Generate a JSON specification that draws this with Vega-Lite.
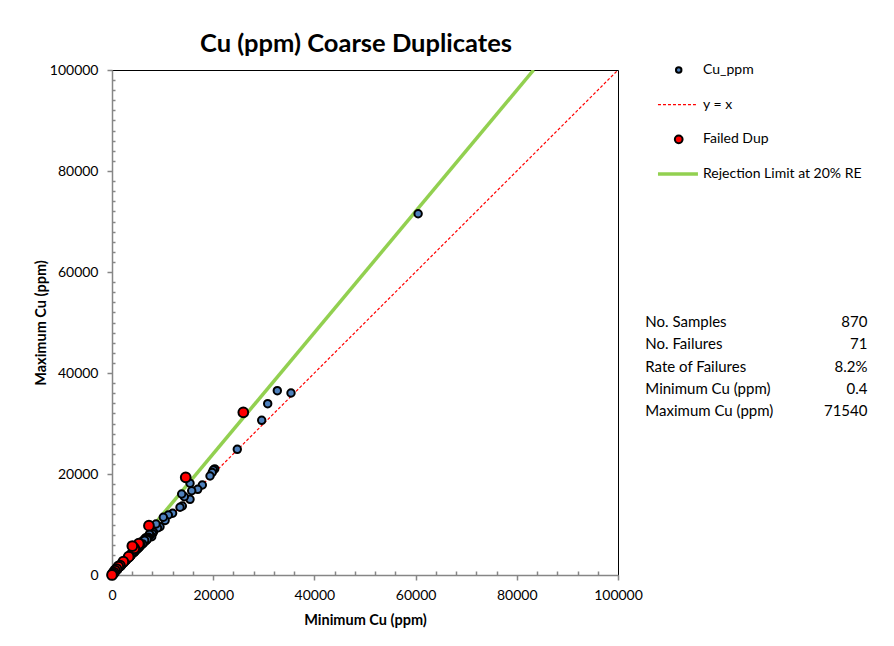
{
  "$schema": "https://vega.github.io/schema/vega-lite/v6.json",
  "autosize": {"type": "none"},
  "width": 506,
  "height": 505,
  "padding": {"left": 112, "top": 70, "right": 276, "bottom": 71},
  "background": "white",
  "config": {
    "font": "Lato",
    "view": {"stroke": "black", "strokeWidth": 1}
  },
  "title": {
    "text": "Cu (ppm) Coarse Duplicates",
    "fontSize": 25.5,
    "fontWeight": "bold",
    "font": "Lato",
    "anchor": "middle",
    "dx": -9,
    "offset": 6,
    "color": "black"
  },
  "datasets": {
    "pts": [
      {"min": 60500, "max": 71540, "series": "Cu_ppm"},
      {"min": 35375, "max": 36040, "series": "Cu_ppm"},
      {"min": 32670, "max": 36500, "series": "Cu_ppm"},
      {"min": 30770, "max": 33920, "series": "Cu_ppm"},
      {"min": 29585, "max": 30630, "series": "Cu_ppm"},
      {"min": 24760, "max": 24890, "series": "Cu_ppm"},
      {"min": 20300, "max": 21000, "series": "Cu_ppm"},
      {"min": 20020, "max": 20790, "series": "Cu_ppm"},
      {"min": 19800, "max": 20300, "series": "Cu_ppm"},
      {"min": 19370, "max": 19600, "series": "Cu_ppm"},
      {"min": 17850, "max": 17820, "series": "Cu_ppm"},
      {"min": 16940, "max": 16970, "series": "Cu_ppm"},
      {"min": 15750, "max": 16690, "series": "Cu_ppm"},
      {"min": 15420, "max": 18160, "series": "Cu_ppm"},
      {"min": 15420, "max": 14990, "series": "Cu_ppm"},
      {"min": 14300, "max": 15500, "series": "Cu_ppm"},
      {"min": 13770, "max": 16040, "series": "Cu_ppm"},
      {"min": 13900, "max": 13660, "series": "Cu_ppm"},
      {"min": 13440, "max": 13410, "series": "Cu_ppm"},
      {"min": 11980, "max": 12220, "series": "Cu_ppm"},
      {"min": 11130, "max": 11880, "series": "Cu_ppm"},
      {"min": 10500, "max": 10800, "series": "Cu_ppm"},
      {"min": 10140, "max": 11430, "series": "Cu_ppm"},
      {"min": 9490, "max": 9560, "series": "Cu_ppm"},
      {"min": 9000, "max": 9300, "series": "Cu_ppm"},
      {"min": 8700, "max": 10100, "series": "Cu_ppm"},
      {"min": 8200, "max": 8500, "series": "Cu_ppm"},
      {"min": 8000, "max": 8200, "series": "Cu_ppm"},
      {"min": 7850, "max": 7580, "series": "Cu_ppm"},
      {"min": 7600, "max": 7900, "series": "Cu_ppm"},
      {"min": 7400, "max": 8100, "series": "Cu_ppm"},
      {"min": 7200, "max": 7500, "series": "Cu_ppm"},
      {"min": 7000, "max": 7300, "series": "Cu_ppm"},
      {"min": 6850, "max": 6930, "series": "Cu_ppm"},
      {"min": 6700, "max": 7400, "series": "Cu_ppm"},
      {"min": 6600, "max": 6700, "series": "Cu_ppm"},
      {"min": 6500, "max": 7200, "series": "Cu_ppm"},
      {"min": 6400, "max": 6600, "series": "Cu_ppm"},
      {"min": 6200, "max": 6300, "series": "Cu_ppm"},
      {"min": 6100, "max": 6800, "series": "Cu_ppm"},
      {"min": 5900, "max": 6500, "series": "Cu_ppm"},
      {"min": 5800, "max": 6000, "series": "Cu_ppm"},
      {"min": 5700, "max": 6300, "series": "Cu_ppm"},
      {"min": 5600, "max": 5700, "series": "Cu_ppm"},
      {"min": 5500, "max": 5900, "series": "Cu_ppm"},
      {"min": 5400, "max": 5500, "series": "Cu_ppm"},
      {"min": 5300, "max": 5600, "series": "Cu_ppm"},
      {"min": 5200, "max": 5300, "series": "Cu_ppm"},
      {"min": 5100, "max": 5700, "series": "Cu_ppm"},
      {"min": 5000, "max": 5100, "series": "Cu_ppm"},
      {"min": 4900, "max": 5300, "series": "Cu_ppm"},
      {"min": 4800, "max": 4900, "series": "Cu_ppm"},
      {"min": 4700, "max": 5000, "series": "Cu_ppm"},
      {"min": 4600, "max": 5100, "series": "Cu_ppm"},
      {"min": 4500, "max": 4600, "series": "Cu_ppm"},
      {"min": 4400, "max": 4500, "series": "Cu_ppm"},
      {"min": 4300, "max": 4700, "series": "Cu_ppm"},
      {"min": 4200, "max": 4300, "series": "Cu_ppm"},
      {"min": 4100, "max": 4400, "series": "Cu_ppm"},
      {"min": 4000, "max": 4600, "series": "Cu_ppm"},
      {"min": 3900, "max": 4100, "series": "Cu_ppm"},
      {"min": 3800, "max": 3900, "series": "Cu_ppm"},
      {"min": 3700, "max": 4200, "series": "Cu_ppm"},
      {"min": 3600, "max": 3700, "series": "Cu_ppm"},
      {"min": 3500, "max": 3800, "series": "Cu_ppm"},
      {"min": 3400, "max": 3500, "series": "Cu_ppm"},
      {"min": 3300, "max": 3400, "series": "Cu_ppm"},
      {"min": 3200, "max": 3600, "series": "Cu_ppm"},
      {"min": 3100, "max": 3300, "series": "Cu_ppm"},
      {"min": 3000, "max": 3200, "series": "Cu_ppm"},
      {"min": 2900, "max": 3000, "series": "Cu_ppm"},
      {"min": 2800, "max": 2900, "series": "Cu_ppm"},
      {"min": 2700, "max": 3000, "series": "Cu_ppm"},
      {"min": 2600, "max": 2800, "series": "Cu_ppm"},
      {"min": 2500, "max": 2700, "series": "Cu_ppm"},
      {"min": 2400, "max": 2450, "series": "Cu_ppm"},
      {"min": 2300, "max": 2500, "series": "Cu_ppm"},
      {"min": 2200, "max": 2350, "series": "Cu_ppm"},
      {"min": 2100, "max": 2400, "series": "Cu_ppm"},
      {"min": 2000, "max": 2100, "series": "Cu_ppm"},
      {"min": 1900, "max": 2000, "series": "Cu_ppm"},
      {"min": 1800, "max": 1900, "series": "Cu_ppm"},
      {"min": 1700, "max": 1950, "series": "Cu_ppm"},
      {"min": 1600, "max": 1700, "series": "Cu_ppm"},
      {"min": 1500, "max": 1650, "series": "Cu_ppm"},
      {"min": 1400, "max": 1500, "series": "Cu_ppm"},
      {"min": 1300, "max": 1450, "series": "Cu_ppm"},
      {"min": 1200, "max": 1300, "series": "Cu_ppm"},
      {"min": 1100, "max": 1200, "series": "Cu_ppm"},
      {"min": 1000, "max": 1100, "series": "Cu_ppm"},
      {"min": 950, "max": 1050, "series": "Cu_ppm"},
      {"min": 850, "max": 900, "series": "Cu_ppm"},
      {"min": 750, "max": 800, "series": "Cu_ppm"},
      {"min": 700, "max": 780, "series": "Cu_ppm"},
      {"min": 620, "max": 700, "series": "Cu_ppm"},
      {"min": 550, "max": 600, "series": "Cu_ppm"},
      {"min": 480, "max": 520, "series": "Cu_ppm"},
      {"min": 400, "max": 450, "series": "Cu_ppm"},
      {"min": 300, "max": 330, "series": "Cu_ppm"},
      {"min": 250, "max": 280, "series": "Cu_ppm"},
      {"min": 200, "max": 220, "series": "Cu_ppm"},
      {"min": 120, "max": 140, "series": "Cu_ppm"},
      {"min": 60, "max": 70, "series": "Cu_ppm"},
      {"min": 20, "max": 25, "series": "Cu_ppm"},
      {"min": 6950, "max": 7050, "series": "Cu_ppm"},
      {"min": 6450, "max": 6900, "series": "Cu_ppm"},
      {"min": 6050, "max": 6150, "series": "Cu_ppm"},
      {"min": 5650, "max": 6050, "series": "Cu_ppm"},
      {"min": 5250, "max": 5400, "series": "Cu_ppm"},
      {"min": 4850, "max": 5150, "series": "Cu_ppm"},
      {"min": 4450, "max": 4550, "series": "Cu_ppm"},
      {"min": 4050, "max": 4350, "series": "Cu_ppm"},
      {"min": 3650, "max": 3750, "series": "Cu_ppm"},
      {"min": 3250, "max": 3550, "series": "Cu_ppm"},
      {"min": 2850, "max": 2950, "series": "Cu_ppm"},
      {"min": 2450, "max": 2700, "series": "Cu_ppm"},
      {"min": 2050, "max": 2150, "series": "Cu_ppm"},
      {"min": 1650, "max": 1850, "series": "Cu_ppm"},
      {"min": 1250, "max": 1320, "series": "Cu_ppm"},
      {"min": 880, "max": 1000, "series": "Cu_ppm"},
      {"min": 520, "max": 560, "series": "Cu_ppm"},
      {"min": 180, "max": 240, "series": "Cu_ppm"},
      {"min": 25950, "max": 32220, "series": "Failed Dup"},
      {"min": 14570, "max": 19350, "series": "Failed Dup"},
      {"min": 7300, "max": 9760, "series": "Failed Dup"},
      {"min": 5300, "max": 6200, "series": "Failed Dup"},
      {"min": 4410, "max": 5290, "series": "Failed Dup"},
      {"min": 4020, "max": 5740, "series": "Failed Dup"},
      {"min": 3300, "max": 3620, "series": "Failed Dup"},
      {"min": 2240, "max": 2630, "series": "Failed Dup"},
      {"min": 1580, "max": 1840, "series": "Failed Dup"},
      {"min": 1250, "max": 1650, "series": "Failed Dup"},
      {"min": 900, "max": 1150, "series": "Failed Dup"},
      {"min": 590, "max": 850, "series": "Failed Dup"},
      {"min": 350, "max": 480, "series": "Failed Dup"},
      {"min": 150, "max": 220, "series": "Failed Dup"},
      {"min": 0.4, "max": 0.5, "series": "Failed Dup"}
    ],
    "lines": [
      {"min": 0, "max": 0, "series": "y = x"},
      {"min": 100000, "max": 100000, "series": "y = x"},
      {"min": 0, "max": 0, "series": "Rejection Limit at 20% RE"},
      {"min": 83333, "max": 100000, "series": "Rejection Limit at 20% RE"}
    ],
    "legend": [
      {"series": "Cu_ppm", "kind": "point"},
      {"series": "y = x", "kind": "dash"},
      {"series": "Failed Dup", "kind": "point"},
      {"series": "Rejection Limit at 20% RE", "kind": "line"}
    ],
    "stats": [
      {"stat": "No. Samples", "value": "870"},
      {"stat": "No. Failures", "value": "71"},
      {"stat": "Rate of Failures", "value": "8.2%"},
      {"stat": "Minimum Cu (ppm)", "value": "0.4"},
      {"stat": "Maximum Cu (ppm)", "value": "71540"}
    ]
  },
  "layer": [
    {
      "layer": [
        {
          "data": {"name": "lines"},
          "transform": [{"filter": "datum.series == 'Rejection Limit at 20% RE'"}],
          "mark": {"type": "line", "color": "#92d050", "strokeWidth": 3.5, "clip": true},
          "encoding": {
            "x": {"field": "min", "type": "quantitative"},
            "y": {"field": "max", "type": "quantitative"}
          }
        },
        {
          "data": {"name": "lines"},
          "transform": [{"filter": "datum.series == 'y = x'"}],
          "mark": {"type": "line", "color": "#ff0000", "strokeWidth": 1.2, "strokeDash": [3, 2], "clip": true},
          "encoding": {
            "x": {"field": "min", "type": "quantitative"},
            "y": {"field": "max", "type": "quantitative"}
          }
        },
        {
          "data": {"name": "pts"},
          "mark": {"type": "point", "filled": true, "stroke": "black", "strokeWidth": 2, "opacity": 1},
          "encoding": {
            "x": {
              "field": "min", "type": "quantitative",
              "scale": {"domain": [0, 100000], "nice": false, "zero": false},
              "axis": {
                "title": "Minimum Cu (ppm)",
                "titleFontSize": 14.5, "titleFontWeight": "bold", "titleColor": "black", "titlePadding": 11,
                "values": [0,4000,8000,12000,16000,20000,24000,28000,32000,36000,40000,44000,48000,52000,56000,60000,64000,68000,72000,76000,80000,84000,88000,92000,96000,100000],
                "tickCount": 200,
                "labelExpr": "datum.value % 20000 === 0 ? format(datum.value, 'd') : ''",
                "labelFontSize": 14, "labelColor": "black", "labelPadding": 8,
                "labelFlush": false, "labelOverlap": false,
                "domainColor": "#868686", "domainWidth": 1.5,
                "tickColor": "#868686", "tickWidth": 1.5,
                "tickSize": {"condition": {"test": "datum.value % 20000 === 0", "value": 5}, "value": -4},
                "grid": false
              }
            },
            "y": {
              "field": "max", "type": "quantitative",
              "scale": {"domain": [0, 100000], "nice": false, "zero": false},
              "axis": {
                "title": "Maximum Cu (ppm)",
                "titleFontSize": 14.5, "titleFontWeight": "bold", "titleColor": "black", "titlePadding": 1,
                "values": [0,2000,4000,6000,8000,10000,12000,14000,16000,18000,20000,22000,24000,26000,28000,30000,32000,34000,36000,38000,40000,42000,44000,46000,48000,50000,52000,54000,56000,58000,60000,62000,64000,66000,68000,70000,72000,74000,76000,78000,80000,82000,84000,86000,88000,90000,92000,94000,96000,98000,100000],
                "tickCount": 200,
                "labelExpr": "datum.value % 20000 === 0 ? format(datum.value, 'd') : ''",
                "labelFontSize": 14, "labelColor": "black", "labelPadding": 9,
                "labelFlush": false, "labelOverlap": false,
                "domainColor": "#868686", "domainWidth": 1.5,
                "tickColor": "#868686", "tickWidth": 1.5,
                "tickSize": {"condition": {"test": "datum.value % 20000 === 0", "value": 5}, "value": -3},
                "grid": false
              }
            },
            "fill": {
              "field": "series", "type": "nominal",
              "scale": {
                "domain": ["Cu_ppm", "Failed Dup"],
                "range": ["#4f81bd", "#ff0000"]
              },
              "legend": null
            },
            "size": {"condition": {"test": "datum.series == 'Failed Dup'", "value": 95}, "value": 55}
          }
        }
      ]
    },
    {
      "data": {"name": "legend"},
      "layer": [
        {
          "transform": [{"filter": "datum.series == 'Rejection Limit at 20% RE'"}],
          "mark": {"type": "rule", "color": "#92d050", "strokeWidth": 3.5},
          "encoding": {
            "x": {"datum": 107900, "type": "quantitative"},
            "x2": {"datum": 115800},
            "y": {"field": "series", "type": "ordinal", "axis": null,
              "scale": {"type": "point", "padding": 0, "domain": ["Cu_ppm", "y = x", "Failed Dup", "Rejection Limit at 20% RE"], "range": [0, 104]}}
          }
        },
        {
          "transform": [{"filter": "datum.series == 'y = x'"}],
          "mark": {"type": "rule", "color": "#ff0000", "strokeWidth": 1.2, "strokeDash": [3, 2]},
          "encoding": {
            "x": {"datum": 107900, "type": "quantitative"},
            "x2": {"datum": 115400},
            "y": {"field": "series", "type": "ordinal"}
          }
        },
        {
          "transform": [{"filter": "datum.kind == 'point'"}],
          "mark": {"type": "point", "filled": true, "stroke": "black", "strokeWidth": 2, "opacity": 1},
          "encoding": {
            "x": {"datum": 112000, "type": "quantitative"},
            "y": {"field": "series", "type": "ordinal"},
            "fill": {"field": "series", "type": "nominal", "legend": null},
            "size": {"condition": {"test": "datum.series == 'Failed Dup'", "value": 60}, "value": 30}
          }
        },
        {
          "mark": {"type": "text", "align": "left", "baseline": "middle", "fontSize": 14, "font": "Lato", "color": "black"},
          "encoding": {
            "x": {"datum": 116800, "type": "quantitative"},
            "y": {"field": "series", "type": "ordinal"},
            "text": {"field": "series"}
          }
        }
      ]
    },
    {
      "data": {"name": "stats"},
      "layer": [
        {
          "mark": {"type": "text", "align": "left", "baseline": "middle", "fontSize": 15, "font": "Lato", "color": "black"},
          "encoding": {
            "x": {"datum": 105400, "type": "quantitative"},
            "y": {"field": "stat", "type": "ordinal", "axis": null,
              "scale": {"type": "point", "padding": 0, "domain": ["No. Samples", "No. Failures", "Rate of Failures", "Minimum Cu (ppm)", "Maximum Cu (ppm)"], "range": [252, 341]}},
            "text": {"field": "stat"}
          }
        },
        {
          "mark": {"type": "text", "align": "right", "baseline": "middle", "fontSize": 15, "font": "Lato", "color": "black"},
          "encoding": {
            "x": {"datum": 149300, "type": "quantitative"},
            "y": {"field": "stat", "type": "ordinal"},
            "text": {"field": "value"}
          }
        }
      ]
    }
  ],
  "resolve": {"scale": {"y": "independent"}}
}
